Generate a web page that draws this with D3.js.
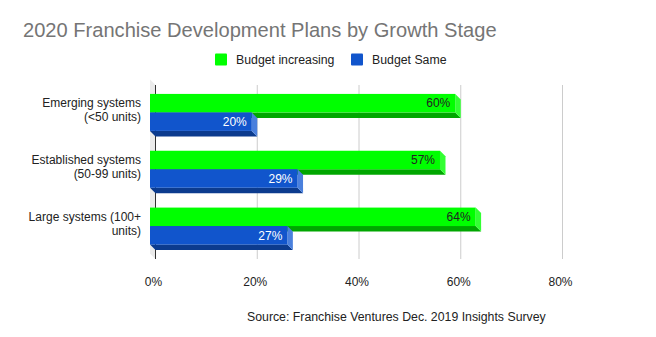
<!DOCTYPE html>
<html>
<head>
<meta charset="utf-8">
<script src="https://cdn.jsdelivr.net/npm/d3@7"></script>
<style>
  body { margin: 0; background: #fff; }
  text { font-family: "Liberation Sans", Arial, sans-serif; }
</style>
</head>
<body>
<div id="chart-area"></div>
<script>
const width = 656;
const height = 337;

const categories = [
    ["Emerging systems", "(<50 units)"],
    ["Established systems", "(50-99 units)"],
    ["Large systems (100+", "units)"]
];
const seriesNames = ["Budget increasing", "Budget Same"];
const budgetIncreasing = [60, 57, 64];
const budgetSame = [20, 29, 27];
const ticks = [0, 20, 40, 60, 80];

// front face, right side (lighter), bottom side (darker)
const shades = [
    { front: "#00ff00", side: "#33ff33", bottom: "#00a600", text: "#222222" },
    { front: "#1155cc", side: "#4a80dd", bottom: "#0c3b8e", text: "#ffffff" }
];

const depth = 5.5;   // 3D offset of the back plane

const svg = d3.select("#chart-area")
    .append("svg")
        .attr("width", width)
        .attr("height", height);

// x is measured on the back plane (where the gridlines sit)
const x = d3.scaleLinear()
    .domain([0, 80])
    .range([155.5, 562.5]);

const y = d3.scaleBand()
    .domain(d3.range(categories.length))
    .range([84, 254.5]);

const inner = d3.scaleBand()
    .domain(d3.range(seriesNames.length))
    .range([0, 37]);

const gridTop = 85, gridBottom = 259;

// left wall
svg.append("path")
    .attr("d", `M${x(0) - depth},${gridTop - depth} L${x(0)},${gridTop} L${x(0)},${gridBottom} L${x(0) - depth},${gridBottom - depth} Z`)
    .attr("fill", "#ebebeb");

// gridlines
svg.selectAll(".grid")
    .data(ticks.slice(1))
    .enter()
    .append("line")
        .attr("x1", d => x(d)).attr("x2", d => x(d))
        .attr("y1", gridTop).attr("y2", gridBottom)
        .attr("stroke", "#cccccc");

svg.append("line")
    .attr("x1", x(0)).attr("x2", x(0))
    .attr("y1", gridTop).attr("y2", gridBottom)
    .attr("stroke", "#333333");

// tick labels
svg.selectAll(".tick")
    .data(ticks)
    .enter()
    .append("text")
        .attr("x", d => x(d) - 2)
        .attr("y", 285.5)
        .attr("text-anchor", "middle")
        .style("font-size", "12px")
        .style("fill", "#222")
        .text(d => d + "%");

const rows = [];
categories.forEach((c, i) => {
    [budgetIncreasing[i], budgetSame[i]].forEach((v, s) => rows.push({ cat: i, s: s, v: v }));
});

const bars = svg.selectAll(".bar")
    .data(rows)
    .enter()
    .append("g");

bars.each(function(d) {
    const g = d3.select(this);
    const sh = shades[d.s];
    const top = y(d.cat) + (y.bandwidth() - inner.range()[1]) / 2 + inner(d.s);
    const h = inner.bandwidth();
    const x0 = x(0) - depth;
    const x1 = x(d.v) - depth;

    // bottom face
    g.append("path")
        .attr("d", `M${x0},${top + h} L${x1},${top + h} L${x1 + depth},${top + h + depth} L${x0 + depth},${top + h + depth} Z`)
        .attr("fill", sh.bottom);
    // right face
    g.append("path")
        .attr("d", `M${x1},${top} L${x1 + depth},${top + depth} L${x1 + depth},${top + h + depth} L${x1},${top + h} Z`)
        .attr("fill", sh.side);
    // front face
    g.append("rect")
        .attr("x", x0)
        .attr("y", top)
        .attr("width", x1 - x0)
        .attr("height", h)
        .attr("fill", sh.front);
    // value label
    g.append("text")
        .attr("x", x1 - 5)
        .attr("y", top + h / 2)
        .attr("dy", "0.35em")
        .attr("text-anchor", "end")
        .style("font-size", "12px")
        .style("fill", sh.text)
        .text(d.v + "%");
});

// category labels
const labels = svg.selectAll(".cat")
    .data(categories)
    .enter()
    .append("text")
        .attr("text-anchor", "end")
        .style("font-size", "12px")
        .style("fill", "#222");

labels.selectAll("tspan")
    .data((d, i) => d.map(line => ({ line, i })))
    .enter()
    .append("tspan")
        .attr("x", 141)
        .attr("y", (d, j) => y(d.i) + y.bandwidth() / 2 - 2.5 + (j - 0.5) * 14)
        .attr("dy", "0.35em")
        .text(d => d.line);

// title
svg.append("text")
    .attr("x", 23)
    .attr("y", 37)
    .style("font-size", "20.1px")
    .style("fill", "#757575")
    .text("2020 Franchise Development Plans by Growth Stage");

// legend
const legendX = [215, 351];
seriesNames.forEach((name, i) => {
    svg.append("rect")
        .attr("x", legendX[i])
        .attr("y", 53.5)
        .attr("width", 12)
        .attr("height", 12)
        .attr("rx", 1)
        .attr("fill", shades[i].front);
    svg.append("text")
        .attr("x", legendX[i] + 21)
        .attr("y", 59.5)
        .attr("dy", "0.35em")
        .style("font-size", "12.3px")
        .style("fill", "#222")
        .text(name);
});

// source note
svg.append("text")
    .attr("x", 247)
    .attr("y", 317)
    .attr("dy", "0.35em")
    .style("font-size", "12.3px")
    .style("fill", "#222")
    .text("Source: Franchise Ventures Dec. 2019 Insights Survey");
</script>
</body>
</html>
